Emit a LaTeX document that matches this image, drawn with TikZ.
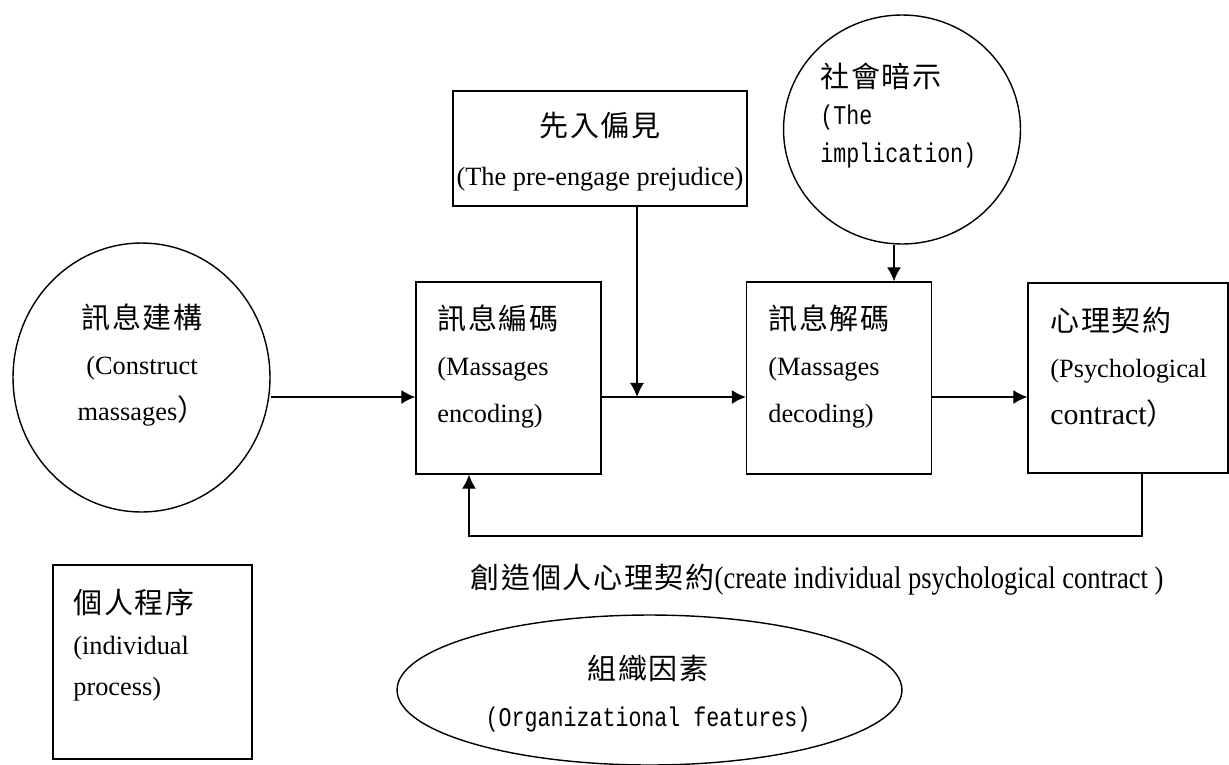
\documentclass[tikz,border=0pt]{standalone}
\usepackage{fontspec}
\setmainfont{Liberation Serif}
\setmonofont[FakeStretch=0.8]{Liberation Mono}
\newfontfamily\cjk[Scale=1.1, LetterSpace=6]{Noto Sans CJK TC}
\newfontfamily\etroit[FakeStretch=0.85]{Liberation Serif}
\usepackage{tikz}
\usetikzlibrary{positioning,shapes.geometric,arrows.meta}

\begin{document}
\begin{tikzpicture}[
  x=0.02cm, y=-0.02cm,
  boite/.style  = {draw, thick, inner sep=0pt},
  bulle/.style  = {draw, thick, ellipse, inner sep=0pt},
  texte/.style  = {inner sep=0pt, align=left, font=\fontsize{15}{26.4}\selectfont},
  fleche/.style = {-{Latex[length=8pt,width=8pt]}, thick}
]
\useasboundingbox (0,0) rectangle (1229,764);

% formes
\node[bulle, minimum width=5.14cm, minimum height=5.38cm] (cons)  at (141.5,377.5) {};
\node[boite, minimum width=3.70cm, minimum height=3.84cm] (enc)   at (508.5,378) {};
\node[boite, minimum width=3.70cm, minimum height=3.84cm] (dec)   at (839,378) {};
\node[boite, minimum width=4.00cm, minimum height=3.80cm] (ctr)   at (1128,378) {};
\node[boite, minimum width=5.88cm, minimum height=2.30cm] (prej)  at (600,148.5) {};
\node[bulle, minimum width=4.74cm, minimum height=4.58cm] (soc)   at (902,129.5) {};
\node[boite, minimum width=3.98cm, minimum height=3.88cm] (indiv) at (152.5,662) {};
\node[bulle, minimum width=10.1cm, minimum height=3.00cm] (org)   at (649.5,690) {};

% textes
\node[texte, align=center] (consT) at (142,365) {{\cjk 訊息建構}\\(Construct\\massages{\cjk ）}};
\node[texte, anchor=west] (encT) at (437,366.5) {{\cjk 訊息編碼}\\(Massages\\encoding)};
\node[texte, anchor=west] (decT) at (768,366.5) {{\cjk 訊息解碼}\\(Massages\\decoding)};
\node[texte, anchor=west] (ctrT) at (1050,367) {{\cjk 心理契約}\\(Psychological\\{\fontsize{17}{26.4}\selectfont contract}{\cjk ）}};
\node[texte, align=center, font=\fontsize{15}{28}\selectfont] (prejT) at (600,152) {{\cjk 先入偏見}\\(The pre-engage prejudice)};
\node[texte, anchor=west, font=\fontsize{15}{21.5}\selectfont] (socT) at (820,115.5) {{\cjk 社會暗示}\\{\ttfamily\fontsize{15.4}{21.5}\selectfont (The}\\{\ttfamily\fontsize{15.4}{21.5}\selectfont implication)}};
\node[texte, anchor=west, font=\fontsize{15}{23.5}\selectfont] (indivT) at (73,645) {{\cjk 個人程序}\\(individual\\process)};
\node[texte, align=center, font=\fontsize{15}{26.6}\selectfont] (orgT) at (648,693.5) {{\cjk 組織因素}\\{\ttfamily\fontsize{15.4}{26.6}\selectfont (Organizational features)}};
\node[texte] (lbl) at (817,580) {{\cjk 創造個人心理契約}{\etroit\fontsize{17.8}{20}\selectfont (create individual psychological contract )}};

% liaisons
\coordinate (ligne)    at (0,397);
\coordinate (jonc)     at (637,397);
\coordinate (descente) at (894,0);
\coordinate (retourD)  at (1142,536);
\coordinate (retourG)  at (469,536);
\draw[fleche] (cons.east |- ligne) -- (enc.west |- ligne);
\draw[fleche] (enc.east |- ligne) -- (dec.west |- ligne);
\draw[fleche] (prej.south -| jonc) -- (jonc);
\draw[fleche] (soc.south -| descente) -- (dec.north -| descente);
\draw[fleche] (dec.east |- ligne) -- (ctr.west |- ligne);
\draw[fleche] (ctr.south -| retourD) -- (retourD) -- (retourG) -- (enc.south -| retourG);
\end{tikzpicture}
\end{document}
